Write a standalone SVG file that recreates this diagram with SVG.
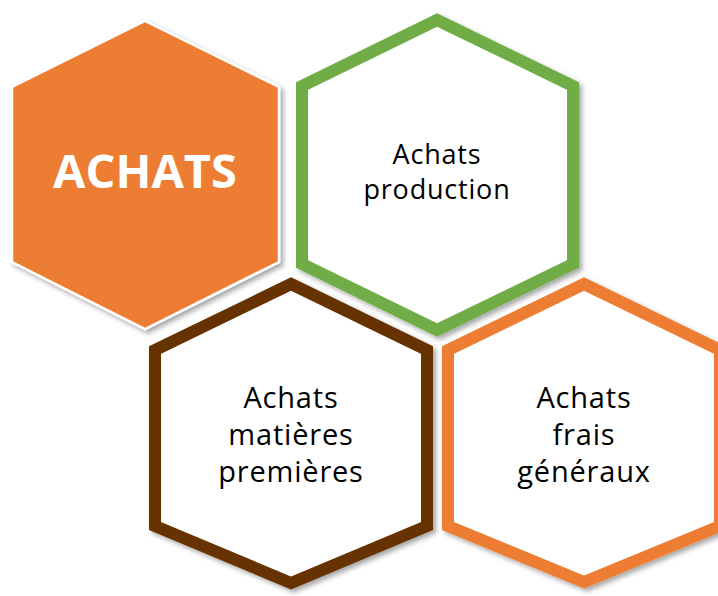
<svg xmlns="http://www.w3.org/2000/svg" width="718" height="596" viewBox="0 0 718 596">
<defs>
<filter id="sh" x="-10%" y="-10%" width="130%" height="130%">
<feDropShadow dx="3" dy="3" stdDeviation="2.5" flood-color="#000" flood-opacity="0.35"/>
</filter>
<style>
.hex{filter:url(#sh);stroke-linejoin:miter}
.lbl{font-family:"Open Sans","Liberation Sans",sans-serif;font-size:29px;letter-spacing:0.8px;fill:#000;text-anchor:middle}
.sm{font-size:27px}
.main{font-family:"Open Sans","Liberation Sans",sans-serif;font-size:47px;font-weight:bold;fill:#fff;text-anchor:middle}
</style>
</defs>
<rect width="718" height="596" fill="#fff"/>
<g id="achats">
<polygon class="hex" points="145,21 279,87 279,262 145,329 12,262 12,87" fill="#ED7D31" stroke="#fff" stroke-width="2.5"/>
<text class="main" x="145" y="188">ACHATS</text>
</g>
<g id="production">
<polygon class="hex" points="437,20 573,86 573,264 437,330 302,264 302,86" fill="#fff" stroke="#70AD47" stroke-width="12"/>
<text class="lbl sm" x="437" y="164">Achats</text>
<text class="lbl sm" x="437" y="199">production</text>
</g>
<g id="matieres">
<polygon class="hex" points="291,284 427,350 427,526 291,583 155,526 155,350" fill="#fff" stroke="#663300" stroke-width="12"/>
<text class="lbl" x="291" y="408">Achats</text>
<text class="lbl" x="291" y="445">matières</text>
<text class="lbl" x="291" y="482">premières</text>
</g>
<g id="frais">
<polygon class="hex" points="584,284 720,350 720,526 584,582 448,526 448,350" fill="#fff" stroke="#ED7D31" stroke-width="12"/>
<text class="lbl" x="584" y="408">Achats</text>
<text class="lbl" x="584" y="445">frais</text>
<text class="lbl" x="584" y="482">généraux</text>
</g>
<g id="connectors"/>
</svg>
